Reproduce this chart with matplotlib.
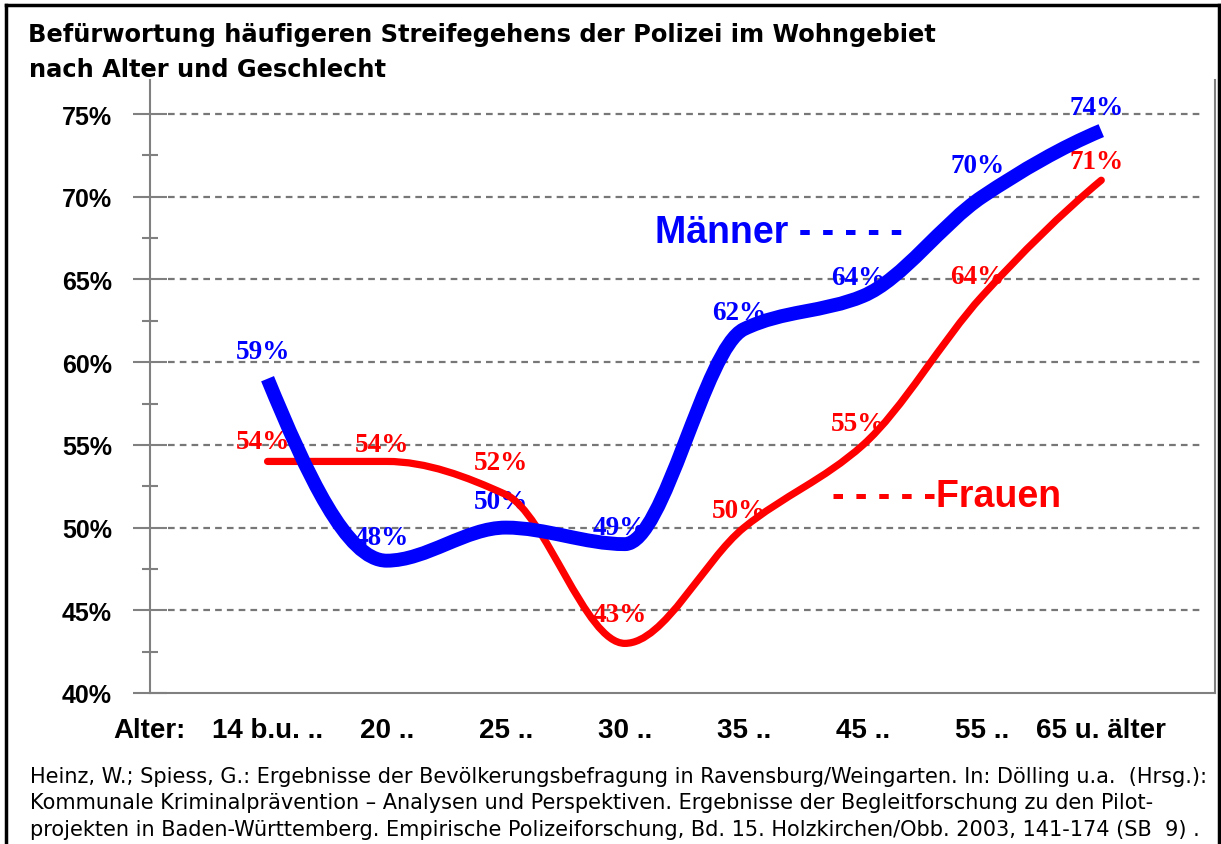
import numpy as np
import matplotlib
matplotlib.use("Agg")
import matplotlib.pyplot as plt
from matplotlib.path import Path
from matplotlib.patches import PathPatch
from matplotlib.lines import Line2D
from matplotlib.ticker import FixedLocator

# data
ages = ["14 b.u. ..", "20 ..", "25 ..", "30 ..", "35 ..", "45 ..", "55 ..", "65 u. älter"]
maenner = [59, 48, 50, 49, 62, 64, 70, 74]
frauen = [54, 54, 52, 43, 50, 55, 64, 71]
y_ticks = [40, 45, 50, 55, 60, 65, 70, 75]

title = "Befürwortung häufigeren Streifegehens der Polizei im Wohngebiet\nnach Alter und Geschlecht"
source = [
    "Heinz, W.; Spiess, G.: Ergebnisse der Bevölkerungsbefragung in Ravensburg/Weingarten. In: Dölling u.a.  (Hrsg.):",
    "Kommunale Kriminalprävention \u2013 Analysen und Perspektiven. Ergebnisse der Begleitforschung zu den Pilot-",
    "projekten in Baden-Württemberg. Empirische Polizeiforschung, Bd. 15. Holzkirchen/Obb. 2003, 141-174 (SB  9) .",
]

# label offsets in pixels (layout only)
m_label_dy = [27, 23, 26, 17, 17, 19, 31, 23]
f_label_dy = [20, 17, 32, 29, 17, 21, 20, 19]

BLUE = "#0000ff"
RED = "#ff0000"
GRAY = "#808080"
W, H = 1221, 845


def smooth_path(ys):
    # monotone (pchip style) tangents, drawn as cubic Bezier segments
    y = np.asarray(ys, dtype=float)
    d = np.diff(y)
    m = np.zeros_like(y)
    for k in range(1, len(y) - 1):
        if d[k - 1] * d[k] > 0:
            m[k] = 2 / (1 / d[k - 1] + 1 / d[k])
    for k, a, b in [(0, d[0], d[1]), (-1, d[-1], d[-2])]:
        t = (3 * a - b) / 2
        if np.sign(t) != np.sign(a):
            t = 0
        elif np.sign(a) != np.sign(b) and abs(t) > abs(3 * a):
            t = 3 * a
        m[k] = t
    verts = [(0, y[0])]
    codes = [Path.MOVETO]
    for i in range(len(y) - 1):
        verts += [(i + 1 / 3, y[i] + m[i] / 3), (i + 2 / 3, y[i + 1] - m[i + 1] / 3), (i + 1, y[i + 1])]
        codes += [Path.CURVE4] * 3
    return Path(verts, codes)


fig = plt.figure(figsize=(W / 100, H / 100), dpi=100)
fig.patch.set_facecolor("white")

# axes box: left 150px, right 1215px, bottom 694px, top 81px
ax = fig.add_axes([150 / W, (H - 694) / H, (1215 - 150) / W, (694 - 81) / H])
x = np.arange(len(ages))
ax.set_xlim(-0.987, 7.955)
ax.set_ylim(40, 77.06)

for s in ["left", "right", "bottom"]:
    ax.spines[s].set_color(GRAY)
    ax.spines[s].set_linewidth(1.5)
ax.spines["top"].set_visible(False)

ax.yaxis.set_major_locator(FixedLocator(y_ticks))
ax.yaxis.set_minor_locator(FixedLocator([t + 2.5 for t in y_ticks[:-1]]))
ax.set_yticklabels([f"{t}%" for t in y_ticks])
ax.tick_params(axis="y", which="major", direction="inout", length=24, width=1.5,
               color=GRAY, pad=15.5, labelsize=18)
ax.tick_params(axis="y", which="minor", direction="inout", length=11, width=1.5, color=GRAY)
ax.tick_params(axis="y", right=False)
for lab in ax.get_yticklabels():
    lab.set_fontweight("bold")
    lab.set_family("Liberation Sans")

ax.set_xticks(x)
ax.set_xticklabels(ages, fontsize=20, fontweight="bold", family="Liberation Sans")
ax.tick_params(axis="x", length=0, pad=17)

ax.hlines(y_ticks[1:], -0.835, 7.83, colors="#777777", linewidth=1.6,
          linestyles=(0, (3.0, 2.3)), zorder=1)

# data labels below the lines
for xi, v, dy in zip(x, maenner, m_label_dy):
    ax.annotate(f"{v}%", (xi, v), xytext=(-5, dy), textcoords="offset pixels",
                ha="center", va="center", color=BLUE, fontsize=19.5,
                fontweight="bold", family="Liberation Serif", zorder=2)
for xi, v, dy in zip(x, frauen, f_label_dy):
    ax.annotate(f"{v}%", (xi, v), xytext=(-5, dy), textcoords="offset pixels",
                ha="center", va="center", color=RED, fontsize=19.5,
                fontweight="bold", family="Liberation Serif", zorder=2)

ax.add_patch(PathPatch(smooth_path(frauen), facecolor="none", edgecolor=RED,
                       linewidth=5.2, capstyle="round", joinstyle="round", zorder=3))
ax.add_patch(PathPatch(smooth_path(maenner), facecolor="none", edgecolor=BLUE,
                       linewidth=10, capstyle="butt", joinstyle="round", zorder=4))

# series names
fig.text(655 / W, 1 - 243 / H, "Männer - - - - -", color=BLUE, fontsize=27,
         fontweight="bold", family="Liberation Sans", va="baseline", ha="left")
fig.text(832 / W, 1 - 507 / H, "- - - - -Frauen", color=RED, fontsize=27,
         fontweight="bold", family="Liberation Sans", va="baseline", ha="left")

fig.text(113 / W, 1 - 738 / H, "Alter:", fontsize=20, fontweight="bold",
         family="Liberation Sans", va="baseline", ha="left")

fig.text(28 / W, 1 - 42 / H, title.split("\n")[0], fontsize=17.4, fontweight="bold",
         family="DejaVu Sans", va="baseline", ha="left")
fig.text(29 / W, 1 - 77 / H, title.split("\n")[1], fontsize=17.4, fontweight="bold",
         family="DejaVu Sans", va="baseline", ha="left")

for i, line in enumerate(source):
    fig.text(30 / W, 1 - (783 + i * 26.5) / H, line, fontsize=15,
             family="DejaVu Sans", va="baseline", ha="left")

# black frame round the picture
for xs, ys in [((6, 6), (6, H + 5)), ((6, 1219), (6, 6)), ((1219, 1219), (6, H + 5))]:
    fig.add_artist(Line2D([v / W for v in xs], [1 - v / H for v in ys],
                          color="black", linewidth=2.5, transform=fig.transFigure))

fig.savefig("out.png", dpi=100)
